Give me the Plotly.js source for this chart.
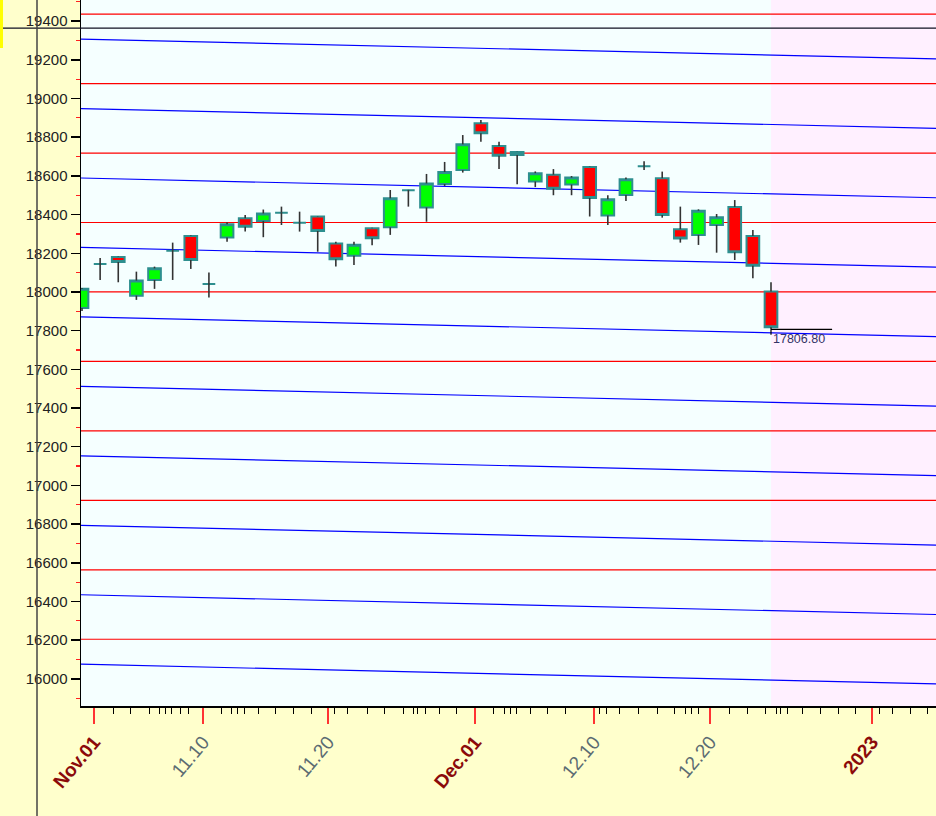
<!DOCTYPE html>
<html><head><meta charset="utf-8">
<script src="https://cdn.plot.ly/plotly-3.0.1.min.js"></script>
<style>html,body{margin:0;padding:0;background:#FFFFCC;} #chart{width:936px;height:816px;}</style>
</head><body><div id="chart"></div>
<script>
// ---- data ----
const dates = ['2022-11-01','2022-11-02','2022-11-03','2022-11-04','2022-11-07','2022-11-08','2022-11-09','2022-11-10','2022-11-11',
 '2022-11-14','2022-11-15','2022-11-16','2022-11-17','2022-11-18','2022-11-21','2022-11-22','2022-11-23','2022-11-24','2022-11-25',
 '2022-11-28','2022-11-29','2022-11-30','2022-12-01','2022-12-02','2022-12-05','2022-12-06','2022-12-07','2022-12-08','2022-12-09',
 '2022-12-12','2022-12-13','2022-12-14','2022-12-15','2022-12-16','2022-12-19','2022-12-20','2022-12-21','2022-12-22','2022-12-23'];
const openV  = [17917,18145,18181,17981,18062,18213,18289,18041,18281,18381,18367,18410,18358,18390,18250,18187,18329,18334,18526,18437,
 18558,18630,18872,18755,18723,18571,18606,18555,18646,18395,18501,18650,18588,18324,18295,18346,18439,18289,18002];
const highV  = [18021,18175,18183,18105,18131,18255,18292,18100,18360,18398,18426,18441,18415,18392,18259,18259,18332,18527,18528,18610,
 18672,18811,18889,18777,18725,18623,18635,18599,18648,18500,18591,18675,18622,18441,18427,18403,18475,18320,18050];
const lowV   = [17902,18062,18050,17959,18016,18062,18119,17972,18260,18312,18283,18346,18312,18208,18131,18139,18242,18295,18441,18363,
 18548,18617,18777,18636,18557,18542,18500,18500,18390,18346,18470,18630,18384,18255,18243,18203,18165,18071,17806.8];
const closeV = [18016,18145,18155,18059,18122,18213,18165,18041,18350,18337,18406,18410,18358,18315,18169,18244,18277,18484,18526,18561,
 18620,18763,18820,18704,18708,18614,18534,18591,18486,18479,18583,18650,18398,18276,18420,18386,18205,18136,17818];

const redLevels  = [16205,16564,16923,17282,17641,18000,18359,18718,19077,19436];
const blueStart  = [16076,16435,16794,17153,17512,17871,18230,18589,18948,19307];
const blueEnd    = [15974,16333,16692,17051,17410,17769,18128,18487,18846,19205];
const crossLevel = 19364;

const xTickLabels = ['Nov.01','11.10','11.20','Dec.01','12.10','12.20','2023'];
const xTickPos    = [0.66,6.67,13.57,21.68,28.24,34.64,43.57];
const majorLabels = ['Nov.01','Dec.01','2023'];
const minorTickPos = [1.71,2.65,3.70,4.25,4.63,4.96,5.41,5.90,7.72,8.22,8.55,8.94,9.71,10.65,11.69,12.63,13.95,14.67,15.72,16.71,
 17.71,18.31,18.53,18.92,19.69,20.68,22.67,23.28,23.66,23.99,24.71,25.65,26.64,28.52,28.90,29.67,30.67,31.72,32.66,33.26,33.59,
 33.98,35.69,36.68,37.67,38.33,38.55,38.89,39.71,40.71,41.70,42.64,43.96,44.68,45.67,46.61];

// ---- layout constants ----
const xRange = [-0.055, 47.1];
const yRange = [15860, 19509];
const FONT = 'Liberation Sans, Arial, sans-serif';

const xIdx = dates.map((d,i)=>i);
const bodyTop = openV.map((o,i)=>Math.max(o,closeV[i]));
const bodyBot = openV.map((o,i)=>Math.min(o,closeV[i]));

const wx = [], wy = [];
xIdx.forEach(i=>{
  wx.push(i,i,null,i,i,null);
  wy.push(highV[i],bodyTop[i],null,bodyBot[i],lowV[i],null);
});

const wicks = {type:'scatter', mode:'lines', x:wx, y:wy, line:{color:'#333333', width:1.6},
  hoverinfo:'skip', showlegend:false};
const candles = {type:'candlestick', x:xIdx, open:openV, close:closeV, high:bodyTop, low:bodyBot,
  text:dates, showlegend:false,
  increasing:{fillcolor:'#00FF00', line:{color:'#2E8F8F', width:2}},
  decreasing:{fillcolor:'#FF0000', line:{color:'#2E8F8F', width:2}},
  whiskerwidth:0};

const lastIdx = xIdx[xIdx.length-1];
const lastLow = lowV[lowV.length-1];

const shapes = [];
shapes.push({type:'rect', xref:'x', yref:'y', x0:lastIdx, x1:xRange[1], y0:yRange[0], y1:yRange[1],
  fillcolor:'#FFF0FF', line:{width:0}, layer:'below'});
redLevels.forEach(v=>shapes.push({type:'line', xref:'x', yref:'y', x0:xRange[0], x1:xRange[1], y0:v, y1:v,
  line:{color:'#FF0000', width:1.2}, layer:'below'}));
blueStart.forEach((v,k)=>shapes.push({type:'line', xref:'x', yref:'y', x0:xRange[0], x1:xRange[1], y0:v, y1:blueEnd[k],
  line:{color:'#0000FF', width:1.2}, layer:'below'}));
// low marker
shapes.push({type:'line', xref:'x', yref:'y', x0:lastIdx, x1:lastIdx+3.37, y0:lastLow, y1:lastLow,
  line:{color:'#000000', width:1.2}, layer:'above'});
shapes.push({type:'line', xref:'x', yref:'y', x0:lastIdx, x1:lastIdx, y0:lastLow, y1:lastLow-28,
  line:{color:'#000000', width:1.2}, layer:'above'});
// crosshair-like horizontal line across whole width
const yCrossPaper = (crossLevel - yRange[0])/(yRange[1]-yRange[0]);
shapes.push({type:'line', xref:'paper', yref:'paper', x0:-81/855, x1:1, y0:yCrossPaper, y1:yCrossPaper,
  line:{color:'#111122', width:1.3}, layer:'above'});
// outer vertical line
shapes.push({type:'line', xref:'paper', yref:'paper', x0:-44/855, x1:-44/855, y0:-110/706, y1:1,
  line:{color:'#444444', width:1.5}, layer:'above'});
// yellow mark top-left
shapes.push({type:'rect', xref:'paper', yref:'paper', x0:-81/855, x1:-78/855, y0:1-48/706, y1:1,
  fillcolor:'#FFFF00', line:{width:0}, layer:'above'});

const ticktext = xTickLabels.map(t => majorLabels.includes(t)
  ? "<b><span style='color:#8B0A0A'>"+t+"</span></b>" : t);

const layout = {
  width:936, height:816,
  margin:{l:81, r:0, t:0, b:110, pad:0},
  paper_bgcolor:'#FFFFCC', plot_bgcolor:'#F5FFFF',
  font:{family:FONT, color:'#222'},
  showlegend:false,
  boxgap:0.3, boxgroupgap:0,
  xaxis:{range:xRange, type:'linear', tickmode:'array', tickvals:xTickPos, ticktext:ticktext,
    tickangle:-50, tickfont:{family:FONT, size:19, color:'#5B6B72'},
    ticks:'outside', ticklen:16, tickcolor:'#FF3333', tickwidth:1.5,
    showline:true, linecolor:'#000', linewidth:1.5, showgrid:false, zeroline:false,
    rangeslider:{visible:false}, fixedrange:true,
    minor:{tickmode:'array', tickvals:minorTickPos, ticks:'outside', ticklen:6, tickcolor:'#000', tickwidth:1}},
  yaxis:{range:yRange, tick0:0, dtick:200, tickformat:'d',
    tickfont:{family:FONT, size:15, color:'#222'},
    ticks:'outside', ticklen:9, tickcolor:'#000', tickwidth:1.5,
    showline:true, linecolor:'#000', linewidth:1.5, showgrid:false, zeroline:false, fixedrange:true,
    minor:{tick0:0, dtick:100, ticks:'outside', ticklen:4, tickcolor:'#FF2020', tickwidth:1.2}},
  shapes:shapes,
  annotations:[{xref:'x', yref:'y', x:lastIdx, y:lastLow, xanchor:'left', yanchor:'top',
    text:lastLow.toFixed(2), showarrow:false, xshift:0, yshift:-1,
    font:{family:FONT, size:12.5, color:'#333366'}}]
};

Plotly.newPlot('chart', [wicks, candles], layout, {displayModeBar:false, staticPlot:true});
</script></body></html>
